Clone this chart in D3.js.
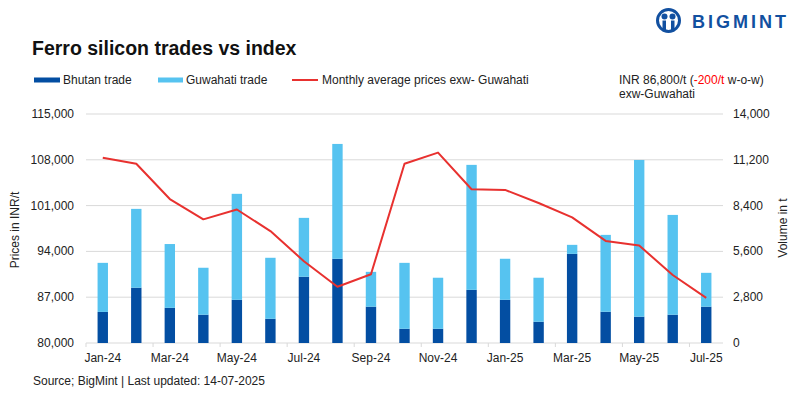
<!DOCTYPE html>
<html>
<head>
<meta charset="utf-8">
<script src="https://cdn.jsdelivr.net/npm/d3@7"></script>
<style>
  body { margin: 0; background: #fff; }
  svg { font-family: "Liberation Sans", Arial, sans-serif; }
</style>
</head>
<body>
<svg id="chart" width="800" height="398"></svg>
<script>
const months = ["Jan-24", "Feb-24", "Mar-24", "Apr-24", "May-24", "Jun-24", "Jul-24", "Aug-24", "Sep-24", "Oct-24",
    "Nov-24", "Dec-24", "Jan-25", "Feb-25", "Mar-25", "Apr-25", "May-25", "Jun-25", "Jul-25"];
const bhutanTrade = [1900, 3380, 2150, 1730, 2640, 1480, 4050, 5150, 2220, 870, 870, 3250, 2640, 1300, 5450, 1910, 1610, 1730, 2220];
const guwahatiTrade = [3000, 4820, 3900, 2870, 6480, 3730, 3600, 7020, 2130, 4030, 3120, 7640, 2510, 2690, 550, 4700, 9580, 6100, 2070];
const prices = [108300, 107400, 102000, 98900, 100400, 97100, 92500, 88600, 90500, 107400, 109100, 103500, 103400, 101400,
    99200, 95600, 94900, 90400, 86900];
const priceTicks = [80000, 87000, 94000, 101000, 108000, 115000];
const volumeTicks = [0, 2800, 5600, 8400, 11200, 14000];

const svg = d3.select("#chart");
const plot = { left: 86, right: 723, top: 114, bottom: 343 };

const x = d3.scaleBand().domain(months).range([plot.left, plot.right]).padding(0);
const yPrice = d3.scaleLinear().domain([80000, 115000]).range([plot.bottom, plot.top]);
const yVol = d3.scaleLinear().domain([0, 14000]).range([plot.bottom, plot.top]);

const rows = months.map((m, i) => ({ month: m, bhutan: bhutanTrade[i], guwahati: guwahatiTrade[i] }));
const stacked = d3.stack().keys(["bhutan", "guwahati"])(rows);
const colors = { bhutan: "#034ea2", guwahati: "#56c3f0" };
const fmt = d3.format(",");

// gridlines
svg.append("g")
    .selectAll("line")
    .data(priceTicks)
    .enter().append("line")
    .attr("x1", plot.left).attr("x2", plot.right)
    .attr("y1", d => yPrice(d)).attr("y2", d => yPrice(d))
    .attr("stroke", "#d9d9d9").attr("stroke-width", 1);

// x axis ticks every other month at band start
const labelled = months.filter((d, i) => i % 2 === 0);
svg.append("g")
    .selectAll("line")
    .data(labelled)
    .enter().append("line")
    .attr("x1", d => x(d)).attr("x2", d => x(d))
    .attr("y1", plot.bottom).attr("y2", plot.bottom + 4)
    .attr("stroke", "#d9d9d9");

svg.append("g")
    .selectAll("text")
    .data(labelled)
    .enter().append("text")
    .attr("x", d => x(d) + x.bandwidth() / 2)
    .attr("y", 362)
    .attr("text-anchor", "middle")
    .attr("font-size", 12)
    .attr("fill", "#222")
    .text(d => d);

// bars
const barW = x.bandwidth() * 0.31;
svg.append("g")
    .selectAll("g")
    .data(stacked)
    .enter().append("g")
    .attr("fill", d => colors[d.key])
    .selectAll("rect")
    .data(d => d)
    .enter().append("rect")
    .attr("x", d => x(d.data.month) + (x.bandwidth() - barW) / 2)
    .attr("width", barW)
    .attr("y", d => yVol(d[1]))
    .attr("height", d => yVol(d[0]) - yVol(d[1]));

// price line
const line = d3.line()
    .x((d, i) => x(months[i]) + x.bandwidth() / 2)
    .y(d => yPrice(d));

svg.append("path")
    .datum(prices)
    .attr("fill", "none")
    .attr("stroke", "#e8312f")
    .attr("stroke-width", 2)
    .attr("stroke-linejoin", "round")
    .attr("d", line);

// left axis labels
svg.append("g")
    .selectAll("text")
    .data(priceTicks)
    .enter().append("text")
    .attr("x", 74)
    .attr("y", d => yPrice(d) + 4)
    .attr("text-anchor", "end")
    .attr("font-size", 12)
    .attr("fill", "#222")
    .text(d => fmt(d));

// right axis labels
svg.append("g")
    .selectAll("text")
    .data(volumeTicks)
    .enter().append("text")
    .attr("x", 733)
    .attr("y", d => yVol(d) + 4)
    .attr("text-anchor", "start")
    .attr("font-size", 12)
    .attr("fill", "#222")
    .text(d => fmt(d));

svg.append("text")
    .attr("transform", "translate(19,230) rotate(-90)")
    .attr("text-anchor", "middle")
    .attr("font-size", 12)
    .attr("fill", "#222")
    .text("Prices in INR/t");

svg.append("text")
    .attr("transform", "translate(787,228) rotate(-90)")
    .attr("text-anchor", "middle")
    .attr("font-size", 12)
    .attr("fill", "#222")
    .text("Volume in t");

// title
svg.append("text")
    .attr("x", 32).attr("y", 55)
    .attr("font-size", 19.5)
    .attr("font-weight", "bold")
    .attr("fill", "#111")
    .text("Ferro silicon trades vs index");

// legend
const legend = svg.append("g").attr("transform", "translate(0,80)");
legend.append("rect").attr("x", 34).attr("y", -2.5).attr("width", 26).attr("height", 5).attr("fill", colors.bhutan);
legend.append("text").attr("x", 63).attr("y", 4).attr("font-size", 12).attr("fill", "#222").text("Bhutan trade");
legend.append("rect").attr("x", 158).attr("y", -2.5).attr("width", 25).attr("height", 5).attr("fill", colors.guwahati);
legend.append("text").attr("x", 186).attr("y", 4).attr("font-size", 12).attr("fill", "#222").text("Guwahati trade");
legend.append("line").attr("x1", 292).attr("x2", 318).attr("y1", 0).attr("y2", 0)
    .attr("stroke", "#e8312f").attr("stroke-width", 2);
legend.append("text").attr("x", 322).attr("y", 4).attr("font-size", 12).attr("fill", "#222")
    .text("Monthly average prices exw- Guwahati");

// price note
const note = svg.append("text").attr("x", 619).attr("y", 84).attr("font-size", 12).attr("fill", "#222");
note.append("tspan").text("INR 86,800/t (");
note.append("tspan").attr("fill", "#ff0000").text("-200/t");
note.append("tspan").text(" w-o-w)");
svg.append("text").attr("x", 619).attr("y", 98).attr("font-size", 12).attr("fill", "#222").text("exw-Guwahati");

// source
svg.append("text")
    .attr("x", 33).attr("y", 385)
    .attr("font-size", 12)
    .attr("fill", "#222")
    .text("Source; BigMint | Last updated: 14-07-2025");

// logo
const logo = svg.append("g").attr("transform", "translate(668.5,20.5)");
logo.append("circle").attr("r", 11).attr("fill", "none").attr("stroke", "#1250a0").attr("stroke-width", 3);
logo.append("circle").attr("cx", -4).attr("cy", -4).attr("r", 3).attr("fill", "#1250a0");
logo.append("circle").attr("cx", 4).attr("cy", -4).attr("r", 3).attr("fill", "#1250a0");
logo.append("rect").attr("x", -6).attr("y", 0).attr("width", 3.5).attr("height", 11).attr("fill", "#1250a0");
logo.append("rect").attr("x", 2.5).attr("y", 0).attr("width", 3.5).attr("height", 11).attr("fill", "#1250a0");
svg.append("text")
    .attr("x", 692).attr("y", 28)
    .attr("font-size", 18)
    .attr("font-weight", "bold")
    .attr("textLength", 94)
    .attr("lengthAdjust", "spacing")
    .attr("fill", "#1250a0")
    .text("BIGMINT");
</script>
</body>
</html>
